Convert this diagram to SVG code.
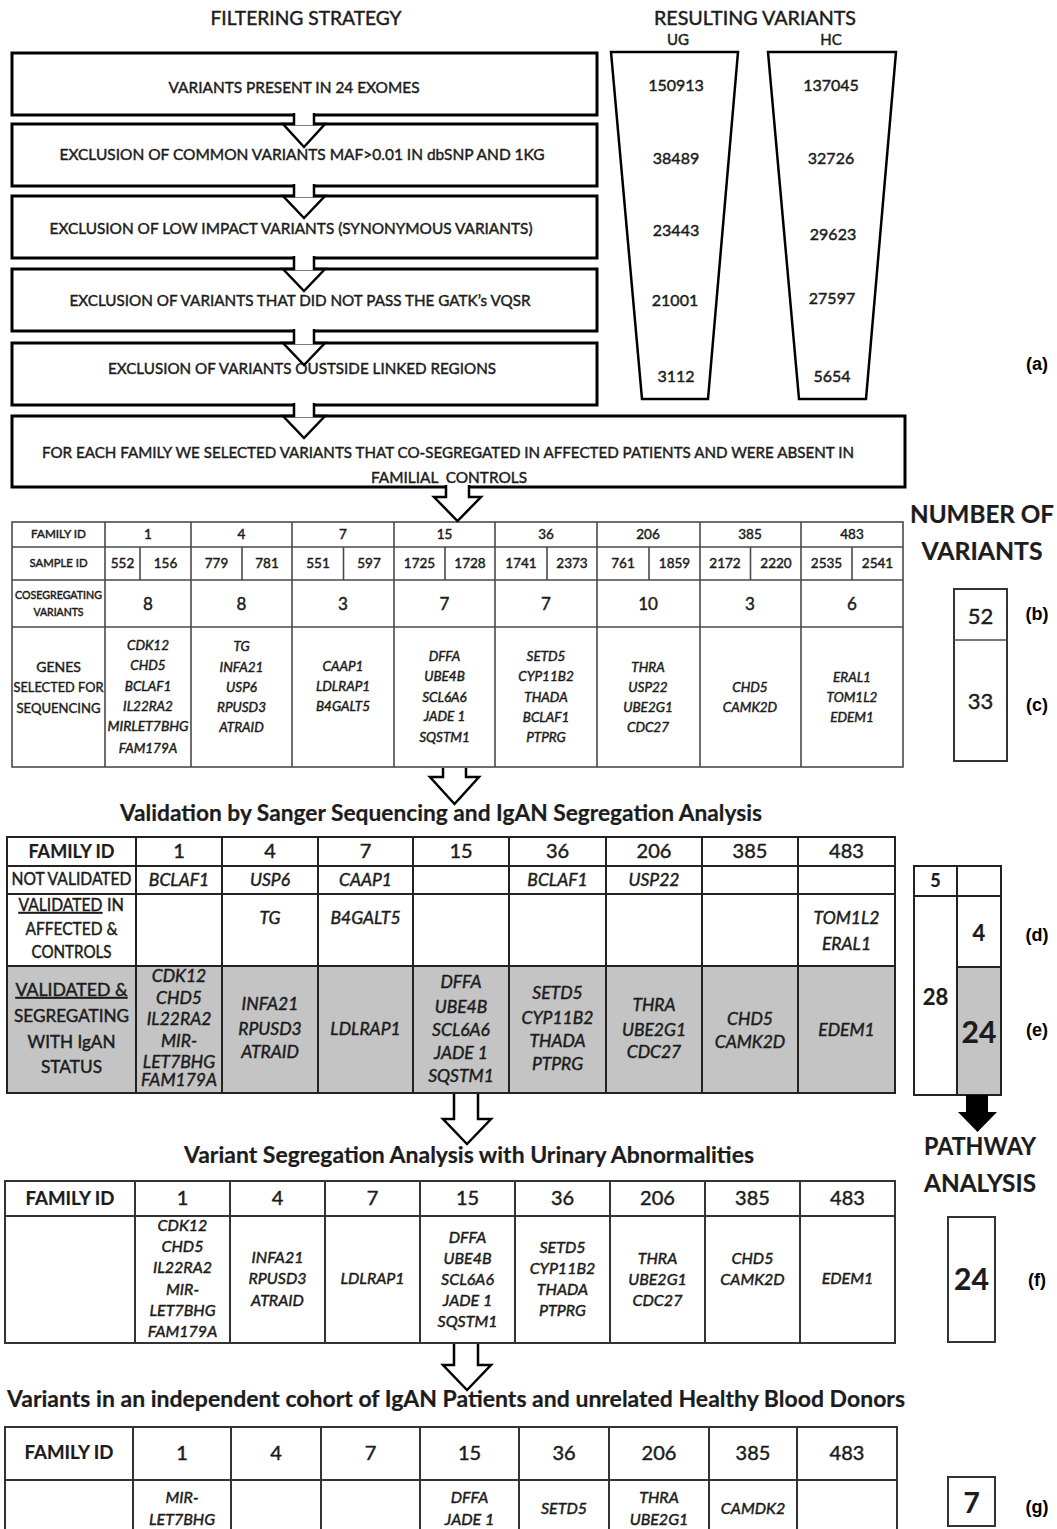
<svg xmlns="http://www.w3.org/2000/svg" width="1057" height="1529" viewBox="0 0 1057 1529">
<style>
text{font-family:"Lato","Liberation Sans",sans-serif;fill:#1c1c1c;stroke:#1c1c1c;stroke-width:0.45}
.m{text-anchor:middle}
.b{font-weight:bold;stroke-width:0.2}
.i{font-style:italic}
.lbl{font-family:"Liberation Sans",Arial,sans-serif;font-weight:bold;font-size:18px;text-anchor:middle;fill:#000;stroke-width:0}
.fb{fill:#fff;stroke:#000;stroke-width:3}
.tz{fill:#fff;stroke:#000;stroke-width:2.5;stroke-linejoin:miter}
.g1{stroke:#4a4a4a;stroke-width:1.6;fill:none}
.g2{stroke:#222;stroke-width:2;fill:none}
.g3{stroke:#333;stroke-width:2;fill:none}
.sb{fill:#fff;stroke:#333;stroke-width:2}
.ar{fill:none;stroke:#000;stroke-width:2.5;stroke-linejoin:miter}
.aw{fill:#fff;stroke:#000;stroke-width:2.5;stroke-linejoin:miter}
.shade{fill:#c4c4c4}
</style>

<!-- Headings -->
<g id="headings">
<text class="m" x="306" y="25" font-size="20" textLength="191" lengthAdjust="spacingAndGlyphs">FILTERING STRATEGY</text>
<text class="m" x="755" y="25" font-size="20" textLength="202" lengthAdjust="spacingAndGlyphs">RESULTING VARIANTS</text>
<text class="m" x="678" y="45" font-size="15">UG</text>
<text class="m" x="831" y="45" font-size="15">HC</text>
</g>

<!-- Flow boxes -->
<g id="step1"><rect class="fb" x="12" y="53" width="585" height="62"/>
<text class="m" x="294" y="93" font-size="16" textLength="251" lengthAdjust="spacingAndGlyphs">VARIANTS PRESENT IN 24 EXOMES</text></g>
<g id="step2"><rect class="fb" x="12" y="124" width="585" height="62"/>
<text class="m" x="302" y="160" font-size="16" textLength="485" lengthAdjust="spacingAndGlyphs">EXCLUSION OF COMMON VARIANTS MAF&gt;0.01 IN dbSNP AND 1KG</text></g>
<g id="step3"><rect class="fb" x="12" y="196" width="585" height="62"/>
<text class="m" x="291" y="234" font-size="16" textLength="483" lengthAdjust="spacingAndGlyphs">EXCLUSION OF LOW IMPACT VARIANTS (SYNONYMOUS VARIANTS)</text></g>
<g id="step4"><rect class="fb" x="12" y="269" width="585" height="62"/>
<text class="m" x="300" y="306" font-size="16" textLength="461" lengthAdjust="spacingAndGlyphs">EXCLUSION OF VARIANTS THAT DID NOT PASS THE GATK’s VQSR</text></g>
<g id="step5"><rect class="fb" x="12" y="343" width="585" height="62"/>
<text class="m" x="302" y="374" font-size="16" textLength="388" lengthAdjust="spacingAndGlyphs">EXCLUSION OF VARIANTS OUSTSIDE LINKED REGIONS</text></g>
<g id="step6"><rect class="fb" x="12" y="416" width="893" height="71"/>
<text class="m" x="448" y="458" font-size="16" textLength="812" lengthAdjust="spacingAndGlyphs">FOR EACH FAMILY WE SELECTED VARIANTS THAT CO-SEGREGATED IN AFFECTED PATIENTS AND WERE ABSENT IN</text>
<text class="m" x="449" y="483" font-size="16" textLength="156" lengthAdjust="spacingAndGlyphs" xml:space="preserve">FAMILIAL  CONTROLS</text></g>

<!-- Funnels -->
<g id="funnel-ug"><polygon class="tz" points="611,52 738,52 708,399 642,399"/>
<text class="m" x="676" y="91" font-size="16">150913</text>
<text class="m" x="676" y="164" font-size="16">38489</text>
<text class="m" x="676" y="236" font-size="16">23443</text>
<text class="m" x="675" y="306" font-size="16">21001</text>
<text class="m" x="676" y="382" font-size="16">3112</text></g>
<g id="funnel-hc"><polygon class="tz" points="768,52 896,52 866,399 799,399"/>
<text class="m" x="831" y="91" font-size="16">137045</text>
<text class="m" x="831" y="164" font-size="16">32726</text>
<text class="m" x="833" y="240" font-size="16">29623</text>
<text class="m" x="832" y="304" font-size="16">27597</text>
<text class="m" x="832" y="382" font-size="16">5654</text></g>

<!-- Table 1 -->
<g id="table1">
<rect class="g1" x="12" y="522" width="891" height="245"/>
<path class="g1" d="M12,547H903M12,580H903M12,627H903M105,522V767M191,522V767M292,522V767M394,522V767M495,522V767M597,522V767M700,522V767M801,522V767M140,547V580M242,547V580M343.5,547V580M445,547V580M547,547V580M649,547V580M750.5,547V580M852,547V580"/>
<text class="m" x="58.5" y="538" font-size="11.5" textLength="55" lengthAdjust="spacingAndGlyphs">FAMILY ID</text>
<text class="m" x="58.5" y="567" font-size="11.5" textLength="58" lengthAdjust="spacingAndGlyphs">SAMPLE ID</text>
<text class="m" x="58.5" y="599" font-size="10.5" textLength="87" lengthAdjust="spacingAndGlyphs">COSEGREGATING</text>
<text class="m" x="58.5" y="616" font-size="10.5">VARIANTS</text>
<text class="m" x="58.5" y="671.5" font-size="14">GENES</text>
<text class="m" x="58.5" y="692" font-size="14" textLength="90" lengthAdjust="spacingAndGlyphs">SELECTED FOR</text>
<text class="m" x="58.5" y="713" font-size="14" textLength="84" lengthAdjust="spacingAndGlyphs">SEQUENCING</text>
<g font-size="13.5">
<text class="m" x="148" y="539">1</text><text class="m" x="241.5" y="539">4</text><text class="m" x="343" y="539">7</text><text class="m" x="444.5" y="539">15</text><text class="m" x="546" y="539">36</text><text class="m" x="648" y="539">206</text><text class="m" x="750" y="539">385</text><text class="m" x="852" y="539">483</text>
<text class="m" x="122.5" y="568">552</text><text class="m" x="165.5" y="568">156</text>
<text class="m" x="216.5" y="568">779</text><text class="m" x="267" y="568">781</text>
<text class="m" x="318" y="568">551</text><text class="m" x="369" y="568">597</text>
<text class="m" x="419.5" y="568">1725</text><text class="m" x="470" y="568">1728</text>
<text class="m" x="521" y="568">1741</text><text class="m" x="572" y="568">2373</text>
<text class="m" x="623" y="568">761</text><text class="m" x="674.5" y="568">1859</text>
<text class="m" x="725" y="568">2172</text><text class="m" x="776" y="568">2220</text>
<text class="m" x="826.5" y="568">2535</text><text class="m" x="877.5" y="568">2541</text>
</g>
<g font-size="17">
<text class="m" x="148" y="610">8</text><text class="m" x="241.5" y="610">8</text><text class="m" x="343" y="610">3</text><text class="m" x="444.5" y="610">7</text><text class="m" x="546" y="610">7</text><text class="m" x="648" y="610">10</text><text class="m" x="750" y="610">3</text><text class="m" x="852" y="610">6</text>
</g>
<g font-size="13.5">
<text class="m i"><tspan x="148" y="650">CDK12</tspan><tspan x="148" y="670">CHD5</tspan><tspan x="148" y="691">BCLAF1</tspan><tspan x="148" y="711">IL22RA2</tspan><tspan x="148" y="731" textLength="81" lengthAdjust="spacingAndGlyphs">MIRLET7BHG</tspan><tspan x="148" y="753">FAM179A</tspan></text>
<text class="m i"><tspan x="241.5" y="651">TG</tspan><tspan x="241.5" y="672">INFA21</tspan><tspan x="241.5" y="692">USP6</tspan><tspan x="241.5" y="712">RPUSD3</tspan><tspan x="241.5" y="732">ATRAID</tspan></text>
<text class="m i"><tspan x="343" y="671">CAAP1</tspan><tspan x="343" y="691">LDLRAP1</tspan><tspan x="343" y="711">B4GALT5</tspan></text>
<text class="m i"><tspan x="444.5" y="661">DFFA</tspan><tspan x="444.5" y="681">UBE4B</tspan><tspan x="444.5" y="702">SCL6A6</tspan><tspan x="444.5" y="721">JADE 1</tspan><tspan x="444.5" y="742">SQSTM1</tspan></text>
<text class="m i"><tspan x="546" y="661">SETD5</tspan><tspan x="546" y="681">CYP11B2</tspan><tspan x="546" y="702">THADA</tspan><tspan x="546" y="722">BCLAF1</tspan><tspan x="546" y="742">PTPRG</tspan></text>
<text class="m i"><tspan x="648" y="672">THRA</tspan><tspan x="648" y="692">USP22</tspan><tspan x="648" y="712">UBE2G1</tspan><tspan x="648" y="732">CDC27</tspan></text>
<text class="m i"><tspan x="750" y="692">CHD5</tspan><tspan x="750" y="712">CAMK2D</tspan></text>
<text class="m i"><tspan x="852" y="682">ERAL1</tspan><tspan x="852" y="702">TOM1L2</tspan><tspan x="852" y="722">EDEM1</tspan></text>
</g>
</g>

<!-- Number of variants (b, c) -->
<g id="count-bc">
<text class="m b" x="982" y="523" font-size="25" textLength="144" lengthAdjust="spacingAndGlyphs">NUMBER OF</text>
<text class="m b" x="982" y="560" font-size="25" textLength="121" lengthAdjust="spacingAndGlyphs">VARIANTS</text>
<rect class="sb" x="954" y="589" width="53" height="172"/>
<path class="g1" d="M954,640H1007"/>
<text class="m" x="980.5" y="624" font-size="22">52</text>
<text class="m" x="980.5" y="709" font-size="22">33</text>
<text class="lbl" x="1037" y="620">(b)</text>
<text class="lbl" x="1037" y="711">(c)</text>
<text class="lbl" x="1037" y="370">(a)</text>
</g>

<!-- Title 2 -->
<g id="title2"><text class="m b" x="441" y="821" font-size="23" textLength="642" lengthAdjust="spacingAndGlyphs">Validation by Sanger Sequencing and IgAN Segregation Analysis</text></g>

<!-- Table 2 -->
<g id="table2">
<rect class="shade" x="7" y="966" width="888" height="127"/>
<rect class="g2" x="7" y="837" width="888" height="256"/>
<path class="g2" d="M7,866H895M7,894H895M7,966H895M136,837V1093M222,837V1093M318,837V1093M413,837V1093M509,837V1093M606,837V1093M702,837V1093M798,837V1093"/>
<text class="m b" x="71.5" y="858" font-size="18" textLength="86" lengthAdjust="spacingAndGlyphs">FAMILY ID</text>
<g font-size="20">
<text class="m" x="179" y="858">1</text><text class="m" x="270" y="858">4</text><text class="m" x="365.5" y="858">7</text><text class="m" x="461" y="858">15</text><text class="m" x="557.5" y="858">36</text><text class="m" x="654" y="858">206</text><text class="m" x="750" y="858">385</text><text class="m" x="846.5" y="858">483</text>
</g>
<g font-size="17">
<text class="m" x="71.5" y="885" textLength="120" lengthAdjust="spacingAndGlyphs">NOT VALIDATED</text>
<text x="18.5" y="911" textLength="84" lengthAdjust="spacingAndGlyphs" text-decoration="underline">VALIDATED</text>
<text x="107" y="911" textLength="17" lengthAdjust="spacingAndGlyphs">IN</text>
<text class="m" x="71.5" y="935" textLength="92" lengthAdjust="spacingAndGlyphs">AFFECTED &amp;</text>
<text class="m" x="71.5" y="958" textLength="80" lengthAdjust="spacingAndGlyphs">CONTROLS</text>
<text class="m" x="71.5" y="996" textLength="112" lengthAdjust="spacingAndGlyphs" text-decoration="underline">VALIDATED &amp;</text>
<text class="m" x="71.5" y="1022" textLength="115" lengthAdjust="spacingAndGlyphs">SEGREGATING</text>
<text class="m" x="71.5" y="1048" textLength="88" lengthAdjust="spacingAndGlyphs">WITH IgAN</text>
<text class="m" x="71.5" y="1073" textLength="61" lengthAdjust="spacingAndGlyphs">STATUS</text>
</g>
<g font-size="17.5">
<text class="m i" x="179" y="885.5">BCLAF1</text><text class="m i" x="270" y="885.5">USP6</text><text class="m i" x="365.5" y="885.5">CAAP1</text><text class="m i" x="557.5" y="885.5">BCLAF1</text><text class="m i" x="654" y="885.5">USP22</text>
<text class="m i" x="270" y="924">TG</text><text class="m i" x="365.5" y="924">B4GALT5</text>
<text class="m i"><tspan x="846.5" y="924">TOM1L2</tspan><tspan x="846.5" y="950">ERAL1</tspan></text>
<text class="m i"><tspan x="179" y="981.5">CDK12</tspan><tspan x="179" y="1003.5">CHD5</tspan><tspan x="179" y="1024.5">IL22RA2</tspan><tspan x="179" y="1046.5">MIR-</tspan><tspan x="179" y="1067.5">LET7BHG</tspan><tspan x="179" y="1086">FAM179A</tspan></text>
<text class="m i"><tspan x="270" y="1009.5">INFA21</tspan><tspan x="270" y="1034.5">RPUSD3</tspan><tspan x="270" y="1058">ATRAID</tspan></text>
<text class="m i" x="365.5" y="1034.5">LDLRAP1</text>
<text class="m i"><tspan x="461" y="988">DFFA</tspan><tspan x="461" y="1012.5">UBE4B</tspan><tspan x="461" y="1035.5">SCL6A6</tspan><tspan x="461" y="1058.5">JADE 1</tspan><tspan x="461" y="1081.5">SQSTM1</tspan></text>
<text class="m i"><tspan x="557.5" y="999">SETD5</tspan><tspan x="557.5" y="1024">CYP11B2</tspan><tspan x="557.5" y="1046.5">THADA</tspan><tspan x="557.5" y="1069.5">PTPRG</tspan></text>
<text class="m i"><tspan x="654" y="1010.5">THRA</tspan><tspan x="654" y="1035.5">UBE2G1</tspan><tspan x="654" y="1058">CDC27</tspan></text>
<text class="m i"><tspan x="750" y="1024.5">CHD5</tspan><tspan x="750" y="1048">CAMK2D</tspan></text>
<text class="m i" x="846.5" y="1035.5">EDEM1</text>
</g>
</g>

<!-- Side box d, e -->
<g id="count-de">
<rect class="shade" x="957" y="967" width="44" height="128"/>
<rect class="g2" x="914" y="866" width="87" height="229"/>
<path class="g2" d="M957,866V1095M914,896H1001M957,967H1001"/>
<text class="m b" x="935.5" y="887" font-size="18">5</text>
<text class="m b" x="979" y="941" font-size="22">4</text>
<text class="m b" x="935.5" y="1005" font-size="22">28</text>
<text class="m b" x="979" y="1043" font-size="30">24</text>
<text class="lbl" x="1037" y="941">(d)</text>
<text class="lbl" x="1037" y="1036">(e)</text>
</g>

<!-- Pathway analysis -->
<g id="pathway">
<text class="m b" x="980" y="1155" font-size="25" textLength="112" lengthAdjust="spacingAndGlyphs">PATHWAY</text>
<text class="m b" x="980" y="1192" font-size="25" textLength="112" lengthAdjust="spacingAndGlyphs">ANALYSIS</text>
</g>

<!-- Title 3 -->
<g id="title3"><text class="m b" x="469" y="1163" font-size="23" textLength="570" lengthAdjust="spacingAndGlyphs">Variant Segregation Analysis with Urinary Abnormalities</text></g>

<!-- Table 3 -->
<g id="table3">
<rect class="g3" x="5" y="1181" width="890" height="162"/>
<path class="g3" d="M5,1216H895M135,1181V1343M230,1181V1343M325,1181V1343M420,1181V1343M515,1181V1343M610,1181V1343M705,1181V1343M800,1181V1343"/>
<text class="m b" x="70" y="1205" font-size="18" textLength="89" lengthAdjust="spacingAndGlyphs">FAMILY ID</text>
<g font-size="20">
<text class="m" x="182.5" y="1205">1</text><text class="m" x="277.5" y="1205">4</text><text class="m" x="372.5" y="1205">7</text><text class="m" x="467.5" y="1205">15</text><text class="m" x="562.5" y="1205">36</text><text class="m" x="657.5" y="1205">206</text><text class="m" x="752.5" y="1205">385</text><text class="m" x="847.5" y="1205">483</text>
</g>
<g font-size="16">
<text class="m i"><tspan x="182.5" y="1231">CDK12</tspan><tspan x="182.5" y="1252">CHD5</tspan><tspan x="182.5" y="1273">IL22RA2</tspan><tspan x="182.5" y="1295">MIR-</tspan><tspan x="182.5" y="1316">LET7BHG</tspan><tspan x="182.5" y="1337">FAM179A</tspan></text>
<text class="m i"><tspan x="277.5" y="1262.5">INFA21</tspan><tspan x="277.5" y="1284">RPUSD3</tspan><tspan x="277.5" y="1306">ATRAID</tspan></text>
<text class="m i" x="372.5" y="1284">LDLRAP1</text>
<text class="m i"><tspan x="467.5" y="1242.5">DFFA</tspan><tspan x="467.5" y="1264">UBE4B</tspan><tspan x="467.5" y="1285">SCL6A6</tspan><tspan x="467.5" y="1306">JADE 1</tspan><tspan x="467.5" y="1327">SQSTM1</tspan></text>
<text class="m i"><tspan x="562.5" y="1252.5">SETD5</tspan><tspan x="562.5" y="1274">CYP11B2</tspan><tspan x="562.5" y="1295">THADA</tspan><tspan x="562.5" y="1316">PTPRG</tspan></text>
<text class="m i"><tspan x="657.5" y="1264">THRA</tspan><tspan x="657.5" y="1285">UBE2G1</tspan><tspan x="657.5" y="1306">CDC27</tspan></text>
<text class="m i"><tspan x="752.5" y="1264">CHD5</tspan><tspan x="752.5" y="1285">CAMK2D</tspan></text>
<text class="m i" x="847.5" y="1284">EDEM1</text>
</g>
</g>

<!-- Box f -->
<g id="count-f">
<rect class="sb" x="948" y="1217" width="47" height="125"/>
<text class="m b" x="971.5" y="1290" font-size="30">24</text>
<text class="lbl" x="1037" y="1286">(f)</text>
</g>

<!-- Title 4 -->
<g id="title4"><text class="m b" x="456" y="1407" font-size="23" textLength="898" lengthAdjust="spacingAndGlyphs">Variants in an independent cohort of IgAN Patients and unrelated Healthy Blood Donors</text></g>

<!-- Table 4 -->
<g id="table4">
<rect class="g3" x="5" y="1427" width="892" height="120"/>
<path class="g3" d="M5,1480H897M133,1427V1547M231,1427V1547M321,1427V1547M420,1427V1547M519,1427V1547M609,1427V1547M709,1427V1547M797,1427V1547"/>
<text class="m b" x="69" y="1459" font-size="18" textLength="89" lengthAdjust="spacingAndGlyphs">FAMILY ID</text>
<g font-size="20">
<text class="m" x="182" y="1460">1</text><text class="m" x="276" y="1460">4</text><text class="m" x="370.5" y="1460">7</text><text class="m" x="469.5" y="1460">15</text><text class="m" x="564" y="1460">36</text><text class="m" x="659" y="1460">206</text><text class="m" x="753" y="1460">385</text><text class="m" x="847" y="1460">483</text>
</g>
<g font-size="16">
<text class="m i"><tspan x="182" y="1503">MIR-</tspan><tspan x="182" y="1525">LET7BHG</tspan></text>
<text class="m i"><tspan x="469.5" y="1503">DFFA</tspan><tspan x="469.5" y="1525">JADE 1</tspan></text>
<text class="m i" x="564" y="1514">SETD5</text>
<text class="m i"><tspan x="659" y="1503">THRA</tspan><tspan x="659" y="1525">UBE2G1</tspan></text>
<text class="m i" x="753" y="1514">CAMDK2</text>
</g>
</g>

<!-- Box g -->
<g id="count-g">
<rect class="sb" x="948" y="1477" width="47" height="49"/>
<text class="m b" x="971.5" y="1513" font-size="28">7</text>
<text class="lbl" x="1037" y="1513">(g)</text>
</g>

<!-- Connectors -->
<g id="connectors">
<rect x="295" y="112" width="18" height="13" fill="#fff"/>
<path class="ar" d="M294,113V124H283L304,147L325,124H314V113"/>
<rect x="295" y="184" width="18" height="13" fill="#fff"/>
<path class="ar" d="M294,184V196H283L304,218L325,196H314V184"/>
<rect x="295" y="256" width="18" height="14" fill="#fff"/>
<path class="ar" d="M294,256V269H283L304,291L325,269H314V256"/>
<rect x="295" y="329" width="18" height="15" fill="#fff"/>
<path class="ar" d="M294,329V343H283L304,365L325,343H314V329"/>
<rect x="295" y="403" width="18" height="14" fill="#fff"/>
<path class="ar" d="M294,403V416H283L304,438L325,416H314V403"/>
<path class="aw" d="M446,485V497H434L457.5,521L481,497H469V485"/>
<path class="aw" d="M443,768V777H430L454.5,804L479,777H466V768"/>
<path class="aw" d="M454,1094V1119H443L467,1144L491,1119H478V1094"/>
<path class="aw" d="M454,1344V1365H443L467,1390L491,1365H478V1344"/>
<path fill="#000" d="M966,1095H988V1112H997L977.5,1132L958,1112H966Z"/>
</g>
</svg>
